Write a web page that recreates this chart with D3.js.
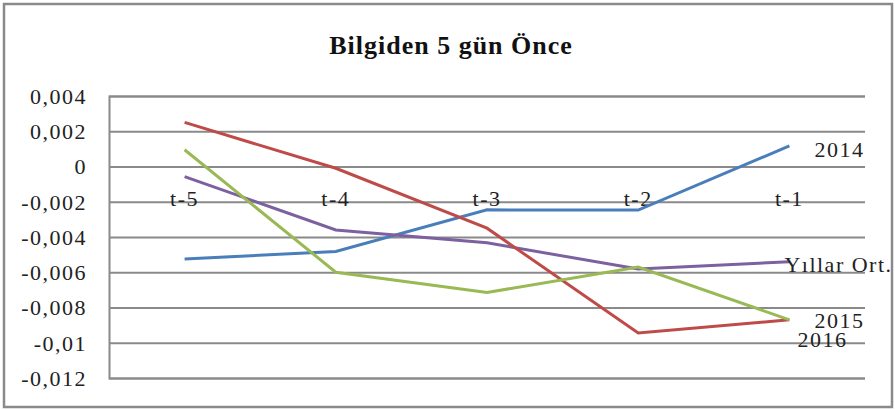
<!DOCTYPE html>
<html>
<head>
<meta charset="utf-8">
<script src="https://cdn.jsdelivr.net/npm/d3@7"></script>
<style>
  body { margin: 0; background: #fff; }
  text { font-family: "Liberation Serif", "Times New Roman", serif; }
</style>
</head>
<body>
<div id="chart"></div>
<script>
// data
const categories = ["t-5", "t-4", "t-3", "t-2", "t-1"];
const s2014 = [-0.00525, -0.00482, -0.00246, -0.00247, 0.00117];
const s2015 = [0.00095, -0.0060, -0.00715, -0.0057, -0.0087];
const s2016 = [0.0025, -0.0001, -0.0035, -0.00945, -0.0087];
const sOrt = [-0.00057, -0.0036, -0.00433, -0.00582, -0.0054];
const yTicks = [0.004, 0.002, 0, -0.002, -0.004, -0.006, -0.008, -0.01, -0.012];
const yTickLabels = ["0,004", "0,002", "0", "-0,002", "-0,004", "-0,006", "-0,008", "-0,01", "-0,012"];

const series = [
  { name: "2014", values: s2014, color: "#4a7ebb", dx: 25, dy: 11 },
  { name: "Yıllar Ort.", values: sOrt, color: "#7d60a0", dx: -5, dy: 10 },
  { name: "2016", values: s2016, color: "#be4b48", dx: 8, dy: 27 },
  { name: "2015", values: s2015, color: "#98b954", dx: 25, dy: 8 },
];

const W = 895, H = 410;
const margin = { top: 96, right: 30, bottom: 32, left: 109 };
const width = W - margin.left - margin.right;
const height = H - margin.top - margin.bottom;
const fs = 22, ls = 1.5; // small text size and tracking

const root = d3.select("#chart").append("svg")
  .attr("width", W)
  .attr("height", H);

// outer frame
root.append("rect")
  .attr("x", 4).attr("y", 4)
  .attr("width", W - 7).attr("height", H - 7)
  .attr("fill", "#fff")
  .attr("stroke", "#8a8a8a")
  .attr("stroke-width", 2.5);

root.append("text")
  .attr("x", 451).attr("y", 54)
  .attr("text-anchor", "middle")
  .attr("font-size", 26)
  .attr("font-weight", "bold")
  .attr("letter-spacing", 1)
  .attr("fill", "#111")
  .text("Bilgiden 5 gün Önce");

const svg = root.append("g")
  .attr("transform", "translate(" + margin.left + "," + margin.top + ")");

const x = d3.scaleBand().domain(categories).range([0, width]);
const y = d3.scaleLinear().domain([-0.012, 0.004]).range([height, 0]);

// gridlines + y labels
const yAxis = d3.axisLeft(y)
  .tickValues(yTicks)
  .tickSize(-width)
  .tickFormat((d, i) => yTickLabels[i]);

svg.append("g")
  .call(yAxis)
  .call(g => g.select(".domain").attr("stroke", "#8a8a8a").attr("stroke-width", 2))
  .call(g => g.selectAll(".tick line").attr("stroke", "#8a8a8a").attr("stroke-width", 2))
  .call(g => g.selectAll(".tick text")
    .attr("x", -22)
    .attr("dy", "0.34em")
    .attr("fill", "#222")
    .attr("font-size", fs)
    .attr("letter-spacing", ls)
    .attr("font-family", "Liberation Serif, serif"));

// category labels hang under the zero line
svg.append("g")
  .selectAll("text")
  .data(categories)
  .join("text")
  .attr("x", d => x(d) + x.bandwidth() / 2)
  .attr("y", y(0) + 39)
  .attr("text-anchor", "middle")
  .attr("font-size", fs)
  .attr("letter-spacing", ls)
  .attr("fill", "#222")
  .text(d => d);

const line = d3.line()
  .x((d, i) => x(categories[i]) + x.bandwidth() / 2)
  .y(d => y(d));

svg.selectAll(".series")
  .data(series)
  .join("path")
  .attr("class", "series")
  .attr("d", d => line(d.values))
  .attr("fill", "none")
  .attr("stroke", d => d.color)
  .attr("stroke-width", 3);

// labels at line ends
const last = categories.length - 1;
svg.selectAll(".lbl")
  .data(series)
  .join("text")
  .attr("class", "lbl")
  .attr("x", d => x(categories[last]) + x.bandwidth() / 2 + d.dx)
  .attr("y", d => y(d.values[last]) + d.dy)
  .attr("font-size", fs)
  .attr("letter-spacing", ls)
  .attr("fill", "#222")
  .text(d => d.name);
</script>
</body>
</html>
